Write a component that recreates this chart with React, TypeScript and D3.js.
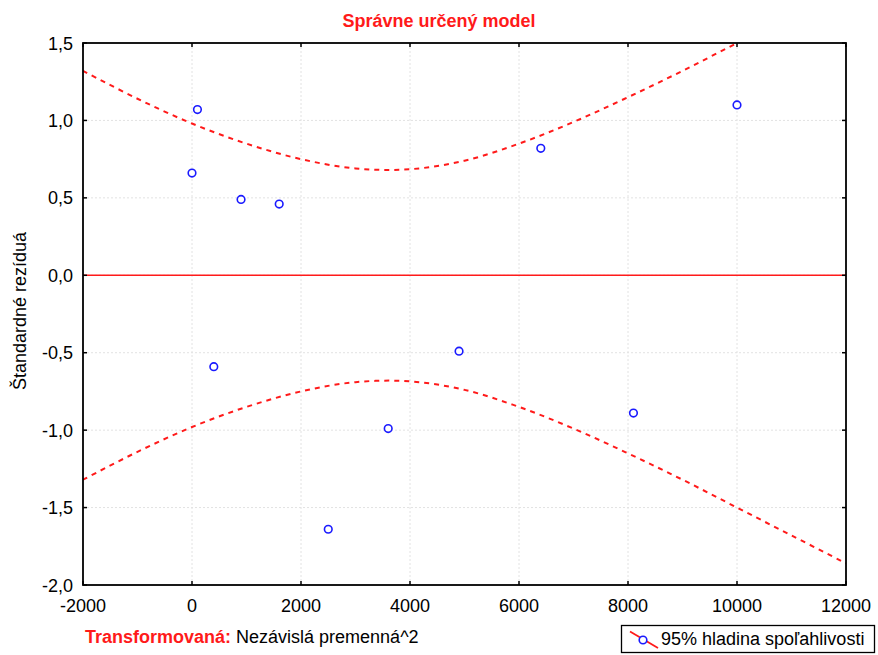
import React, { useEffect } from "react";
import * as d3 from "d3";

// Data
const xValues = [0, 100, 400, 900, 1600, 2500, 3600, 4900, 6400, 8100, 10000];
const residuals = [0.66, 1.07, -0.59, 0.49, 0.46, -1.64, -0.99, -0.49, 0.82, -0.89, 1.1];
const bandX = [-2000, -1000, 0, 1000, 2000, 3000, 4000, 5000, 6000, 7000, 8000, 9000, 10000, 11000, 12000];
const bandUpper = [1.32, 1.14, 0.98, 0.85, 0.75, 0.69, 0.685, 0.74, 0.85, 0.99, 1.15, 1.32, 1.5, 1.68, 1.86];
const bandLower = [-1.32, -1.14, -0.98, -0.85, -0.75, -0.69, -0.685, -0.74, -0.85, -0.99, -1.15, -1.32, -1.5, -1.68, -1.86];
const xTicks = [-2000, 0, 2000, 4000, 6000, 8000, 10000, 12000];
const yTicks = [-2.0, -1.5, -1.0, -0.5, 0.0, 0.5, 1.0, 1.5];

const W = 878;
const H = 655;
const L = 83;
const R = 846;
const T = 43;
const B = 585;
const FONT = "'Liberation Sans', Arial, sans-serif";

export default function App() {
  useEffect(() => {
    document.body.style.margin = "0";
  }, []);

  const x = d3.scaleLinear().domain([-2000, 12000]).range([L, R]);
  const y = d3.scaleLinear().domain([-2.0, 1.5]).range([B, T]);

  const bandLine = (vals: number[]) =>
    d3
      .line<number>()
      .x((_, i) => x(bandX[i]))
      .y((d) => y(d))
      .curve(d3.curveCatmullRom)(vals) || "";

  const fmtY = (v: number) => v.toFixed(1).replace(".", ",");

  return (
    <svg width={W} height={H} style={{ display: "block", background: "#fff" }} fontFamily={FONT}>
      <defs>
        <clipPath id="plotclip">
          <rect x={L} y={T} width={R - L} height={B - T} />
        </clipPath>
      </defs>
      <rect x={0} y={0} width={W} height={H} fill="#fff" />

      {/* Title */}
      <text x={439} y={27} textAnchor="middle" fontSize={18} fontWeight="bold" fill="#ff1a1a">
        Správne určený model
      </text>

      {/* Grid */}
      <g stroke="#e2e2e2" strokeWidth={1} strokeDasharray="2,2">
        {xTicks.slice(1, -1).map((t) => (
          <line key={"gx" + t} x1={x(t)} x2={x(t)} y1={T} y2={B} />
        ))}
        {yTicks.slice(1, -1).map((t) => (
          <line key={"gy" + t} x1={L} x2={R} y1={y(t)} y2={y(t)} />
        ))}
      </g>

      {/* Zero line */}
      <line x1={L} x2={R} y1={y(0)} y2={y(0)} stroke="#ff1a1a" strokeWidth={1.6} />

      {/* Confidence band */}
      <g clipPath="url(#plotclip)" fill="none" stroke="#ff1a1a" strokeWidth={2} strokeDasharray="5,5">
        <path d={bandLine(bandUpper)} />
        <path d={bandLine(bandLower)} />
      </g>

      {/* Points */}
      <g fill="#fff" stroke="#1a1aff" strokeWidth={1.6}>
        {xValues.map((v, i) => (
          <circle key={"p" + i} cx={x(v)} cy={y(residuals[i])} r={3.8} />
        ))}
      </g>

      {/* Frame */}
      <rect x={L} y={T} width={R - L} height={B - T} fill="none" stroke="#000" strokeWidth={1.8} />

      {/* Ticks (inward) */}
      <g stroke="#000" strokeWidth={1.5}>
        {xTicks.map((t) => (
          <g key={"tx" + t}>
            <line x1={x(t)} x2={x(t)} y1={B} y2={B - 4} />
            <line x1={x(t)} x2={x(t)} y1={T} y2={T + 4} />
          </g>
        ))}
        {yTicks.map((t) => (
          <g key={"ty" + t}>
            <line x1={L} x2={L + 4} y1={y(t)} y2={y(t)} />
            <line x1={R} x2={R - 4} y1={y(t)} y2={y(t)} />
          </g>
        ))}
      </g>

      {/* Tick labels */}
      <g fontSize={18} fill="#000">
        {xTicks.map((t) => (
          <text key={"lx" + t} x={x(t)} y={612} textAnchor="middle">
            {String(t)}
          </text>
        ))}
        {yTicks.map((t) => (
          <text key={"ly" + t} x={73} y={y(t) + 6.5} textAnchor="end">
            {fmtY(t)}
          </text>
        ))}
      </g>

      {/* Y axis label */}
      <text
        transform={`translate(26, ${(T + B) / 2 - 3}) rotate(-90)`}
        textAnchor="middle"
        fontSize={18}
        fill="#000"
      >
        Štandardné rezíduá
      </text>

      {/* X axis label */}
      <text x={85} y={643} fontSize={18}>
        <tspan fill="#ff1a1a" fontWeight="bold">Transformovaná:</tspan>
        <tspan fill="#000"> Nezávislá premenná^2</tspan>
      </text>

      {/* Legend */}
      <g>
        <rect x={621.5} y={625.5} width={253} height={27} fill="#fff" stroke="#000" strokeWidth={1.3} />
        <line x1={630} y1={631.5} x2={658} y2={648} stroke="#ff1a1a" strokeWidth={1.8} />
        <circle cx={643} cy={640} r={3.8} fill="#fff" stroke="#1a1aff" strokeWidth={1.6} />
        <text x={661} y={645} fontSize={18} fill="#000">
          95% hladina spoľahlivosti
        </text>
      </g>
    </svg>
  );
}
